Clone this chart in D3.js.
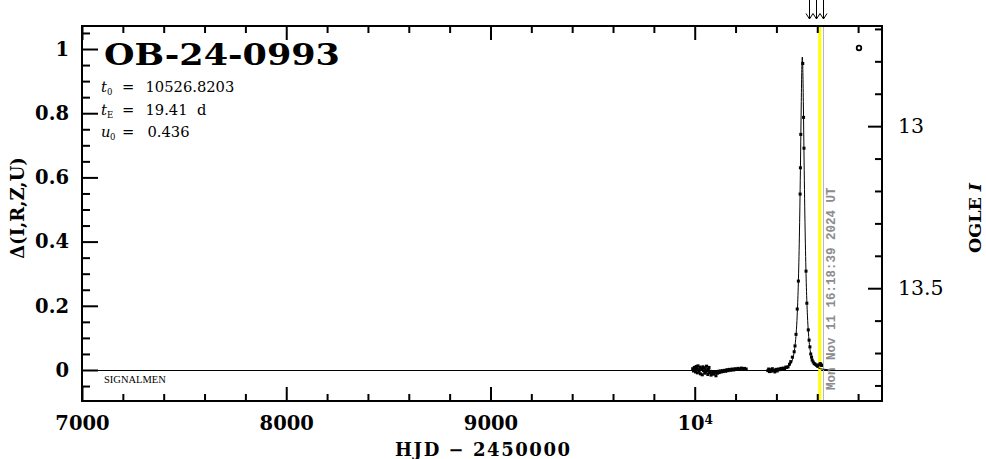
<!DOCTYPE html>
<html><head><meta charset="utf-8">
<script src="https://cdn.jsdelivr.net/npm/d3@7/dist/d3.min.js"></script>
<style>html,body{margin:0;padding:0;background:#fff;}svg{display:block;}</style>
</head><body>
<svg id="c" width="986" height="459"></svg>
<script>
// ---------- data ----------
const xMajorTicks = [7000, 8000, 9000, 10000];
const xMinorTicks = [7200,7400,7600,7800,8200,8400,8600,8800,9200,9400,9600,9800,10200,10400,10600,10800];
const yLeftMajorTicks = [0, 0.2, 0.4, 0.6, 0.8, 1];
const yLeftMinorTicks = [-0.05,0.05,0.1,0.15,0.25,0.3,0.35,0.45,0.5,0.55,0.65,0.7,0.75,0.85,0.9,0.95,1.05];
const yRightMajorTicks = [13, 13.5];
const yRightMinorTicks = [12.7,12.8,12.9,13.1,13.2,13.3,13.4,13.6,13.7,13.8];

// OGLE observations 2023 season (HJD-2450000, delta mag)
const obs2023T = [9990,9994,9998,10001,10004,10007,10010,10013,10016,10019,
  10022,10025,10028,10031,10034,10037,10040,10043,10046,10049,
  10052,10055,10058,10061,10064,10067,10070,10073,10076,10080,
  10084,10088,10092,10096,10100,10104,10108,10112,10116,10120,
  10125,10130,10135,10140,10146,10152,10158,10164,10170,10177,
  10184,10191,10198,10205,10212,10220,10228,10236,10244,10252];
const obs2023D = [0.004,-0.003,0.008,0.002,-0.006,0.011,0.005,-0.009,0.013,0.001,
  -0.004,0.009,-0.012,0.006,0.003,-0.015,0.010,-0.002,0.007,-0.010,
  0.004,-0.006,0.012,-0.003,-0.014,0.002,0.008,-0.008,-0.004,-0.016,
  -0.011,-0.007,-0.013,-0.005,-0.009,-0.018,-0.006,-0.010,-0.004,-0.008,
  -0.003,-0.006,-0.002,-0.005,-0.001,-0.004,0.001,-0.002,0.002,-0.001,
  0.003,0.000,0.004,0.002,0.005,0.003,0.006,0.004,0.005,0.003];

// OGLE observations 2024 season
const obs2024T = [10358,10362,10366,10370,10375,10380,10386,10392,10398,10404,10410,10416,10422,10428,10434,10440,10446,10451,
  10457,10464,10470,10478,10487,10491,10496,10502,10507.5,10516,10517.5,10519.3,10529,10533,10535,10545,10549,10556,10560,10564,
  10568,10572,10575,10580,10585,10590,10596,10602,10608,10614,10618,10621];
const obs2024D = [-0.002,0.003,-0.005,0.001,-0.004,0.004,-0.001,-0.006,0.002,-0.003,0.003,0.001,0.005,0.002,0.006,0.004,0.009,0.008,
  0.010,0.018,0.026,0.040,0.057,0.075,0.111,0.190,0.277,0.548,0.630,0.734,0.955,0.787,0.691,0.308,0.208,0.125,0.093,0.072,
  0.050,0.040,0.031,0.025,0.020,0.018,0.015,0.012,0.016,0.020,0.018,0.014];

// model light curve
const modelT = [10376.8,10426.8,10446.8,10456.8,10466.8,10476.8,10486.8,10491.8,10496.8,10501.8,10506.8,10509.3,10511.8,10514.3,
  10516.8,10519.3,10521.8,10524.3,10526.8,10529.3,10531.8,10534.3,10536.8,10539.3,10541.8,10544.3,10546.8,10551.8,10556.8,
  10561.8,10566.8,10576.8,10586.8,10596.8,10606.8,10626.8,10676.8];
const modelD = [0.0005,0.0026,0.0059,0.0095,0.0159,0.0285,0.0553,0.0788,0.115,0.171,0.258,0.318,0.393,0.483,
  0.591,0.713,0.836,0.936,0.975,0.936,0.836,0.713,0.591,0.483,0.393,0.318,0.258,0.171,0.115,
  0.0788,0.0553,0.0285,0.0159,0.0095,0.0059,0.0026,0.0005];

const alertArrowsT = [10562, 10594, 10626];
const yellowLineT = [10612];
const nowLineT = [10626.2];
const eventName = "OB-24-0993";
const params = [["t","0","10526.8203"],["t","E","19.41  d"],["u","0","0.436"]];
const dateText = "Mon Nov 11 16:18:39 2024 UT";

// ---------- drawing ----------
const svg = d3.select("#c");
const L = 82, R = 882, T = 26, B = 401;
const x = d3.scaleLinear().domain([7000, 10917]).range([L, R]);
const yL = d3.scaleLinear().domain([-0.0966, 1.0717]).range([B, T]);
const yR = d3.scaleLinear().domain([13.848, 12.691]).range([B, T]);

const serifB = "'DejaVu Serif', serif";

// zero line
const y0 = Math.round(yL(0)) + 0.5;
svg.append("line").attr("x1", L).attr("x2", R).attr("y1", y0).attr("y2", y0)
  .attr("stroke", "#000").attr("stroke-width", 1);

// yellow & now lines
svg.append("line").attr("x1", x(yellowLineT[0])).attr("x2", x(yellowLineT[0])).attr("y1", T).attr("y2", B)
  .attr("stroke", "#ffff00").attr("stroke-width", 3);
const xn = Math.round(x(nowLineT[0])) + 0.5;
svg.append("line").attr("x1", xn).attr("x2", xn).attr("y1", T).attr("y2", B)
  .attr("stroke", "#b8b8b8").attr("stroke-width", 1);

// model
const line = d3.line().x(d => x(d[0])).y(d => yL(d[1])).curve(d3.curveMonotoneX);
svg.append("path").datum(modelT.map((t, i) => [t, modelD[i]]))
  .attr("d", line).attr("fill", "none").attr("stroke", "#000").attr("stroke-width", 1);

// points
const pts = obs2023T.map((t, i) => [t, obs2023D[i]]).concat(obs2024T.map((t, i) => [t, obs2024D[i]]));
svg.append("g").selectAll("rect").data(pts).join("rect")
  .attr("x", d => x(d[0]) - 1.5).attr("y", d => yL(d[1]) - 1.5)
  .attr("width", 3).attr("height", 3).attr("fill", "#000");

// date text
const dtx = 835, dty = 390;
svg.append("text").attr("x", dtx).attr("y", dty)
  .attr("transform", `rotate(-90,${dtx},${dty})`)
  .attr("font-family", "'Liberation Mono', monospace").attr("font-weight", "bold")
  .attr("font-size", 12.5).attr("fill", "#8c8c8c").text(dateText);

// axes
function styleAxis(g) {
  g.select(".domain").remove();
  g.selectAll(".tick line").attr("stroke", "#000").attr("stroke-width", 2);
}
svg.append("g").attr("transform", `translate(0,${B})`)
  .call(d3.axisBottom(x).tickValues(xMajorTicks).tickSize(-14).tickPadding(15).tickFormat(d3.format("d")))
  .call(styleAxis)
  .call(g => g.selectAll("text").attr("font-family", serifB).attr("font-weight", "bold").attr("font-size", 19.5).attr("fill", "#000"))
  .call(g => g.selectAll("text").filter(d => d === 10000).text("10").append("tspan").attr("dy", "-0.5em").attr("font-size", "0.62em").text("4"));
svg.append("g").attr("transform", `translate(0,${B})`)
  .call(d3.axisBottom(x).tickValues(xMinorTicks).tickSize(-7).tickFormat("")).call(styleAxis);
svg.append("g").attr("transform", `translate(0,${T})`)
  .call(d3.axisTop(x).tickValues(xMajorTicks).tickSize(-14).tickFormat("")).call(styleAxis);
svg.append("g").attr("transform", `translate(0,${T})`)
  .call(d3.axisTop(x).tickValues(xMinorTicks).tickSize(-7).tickFormat("")).call(styleAxis);

svg.append("g").attr("transform", `translate(${L},0)`)
  .call(d3.axisLeft(yL).tickValues(yLeftMajorTicks).tickSize(-16).tickPadding(13).tickFormat(d => d3.format("")(d)))
  .call(styleAxis)
  .call(g => g.selectAll("text").attr("font-family", serifB).attr("font-weight", "bold").attr("font-size", 19.5).attr("fill", "#000"));
svg.append("g").attr("transform", `translate(${L},0)`)
  .call(d3.axisLeft(yL).tickValues(yLeftMinorTicks).tickSize(-8).tickFormat("")).call(styleAxis);

svg.append("g").attr("transform", `translate(${R},0)`)
  .call(d3.axisRight(yR).tickValues(yRightMajorTicks).tickSize(-14).tickPadding(16).tickFormat(d => d3.format("")(d)))
  .call(styleAxis)
  .call(g => g.selectAll("text").attr("font-family", serifB).attr("font-size", 20.5).attr("fill", "#000"));
svg.append("g").attr("transform", `translate(${R},0)`)
  .call(d3.axisRight(yR).tickValues(yRightMinorTicks).tickSize(-7).tickFormat("")).call(styleAxis);

// frame
svg.append("rect").attr("x", L).attr("y", T).attr("width", R - L).attr("height", B - T)
  .attr("fill", "none").attr("stroke", "#000").attr("stroke-width", 2);

// alert arrows above frame
const ag = svg.append("g").attr("stroke", "#000").attr("stroke-width", 1).attr("fill", "none");
alertArrowsT.forEach(t => {
  const ax = Math.round(x(t)) + 0.5;
  ag.append("path").attr("d", `M${ax},0 L${ax},19 M${ax - 3.5},13.5 L${ax},19 L${ax + 3.5},13.5`);
});

// legend circle
svg.append("circle").attr("cx", 859).attr("cy", 48).attr("r", 2.3)
  .attr("fill", "none").attr("stroke", "#000").attr("stroke-width", 1.8);

// title
svg.append("text").attr("x", 104).attr("y", 65).attr("font-family", serifB).attr("font-weight", "bold")
  .attr("font-size", 30).attr("textLength", 236).attr("lengthAdjust", "spacingAndGlyphs").text(eventName);

// parameters
const pf = "'DejaVu Serif', serif";
const baseY = [92, 115, 137];
params.forEach((p, i) => {
  const g = svg.append("g").attr("font-family", pf).attr("font-size", 14.7).attr("fill", "#000");
  g.append("text").attr("x", 101).attr("y", baseY[i]).attr("font-style", "italic").text(p[0]);
  g.append("text").attr("x", p[0] === "u" ? 110 : 107).attr("y", baseY[i] + 3).attr("font-size", 8.5).text(p[1]);
  g.append("text").attr("x", 122).attr("y", baseY[i]).text("=");
  g.append("text").attr("x", i === 2 ? 147.5 : 145.5).attr("y", baseY[i]).attr("xml:space", "preserve").text(p[2]);
});

// SIGNALMEN
svg.append("text").attr("x", 104).attr("y", 383).attr("font-family", "'Liberation Serif', serif").attr("font-size", 10.5).text("SIGNALMEN");

// axis titles
svg.append("text").attr("x", 482.5).attr("y", 456).attr("text-anchor", "middle")
  .attr("font-family", serifB).attr("font-weight", "bold").attr("font-size", 18)
  .attr("textLength", 175).attr("lengthAdjust", "spacing").text("HJD \u2212 2450000");

svg.append("text").attr("transform", "translate(24,208) rotate(-90)").attr("text-anchor", "middle")
  .attr("font-family", serifB).attr("font-weight", "bold").attr("font-size", 18).text("\u0394(I,R,Z,U)");

const rt = svg.append("text").attr("transform", "translate(981,218) rotate(-90)").attr("text-anchor", "middle")
  .attr("font-family", serifB).attr("font-weight", "bold").attr("font-size", 17.5);
rt.append("tspan").text("OGLE ");
rt.append("tspan").attr("font-style", "italic").text("I");
</script>
</body></html>
